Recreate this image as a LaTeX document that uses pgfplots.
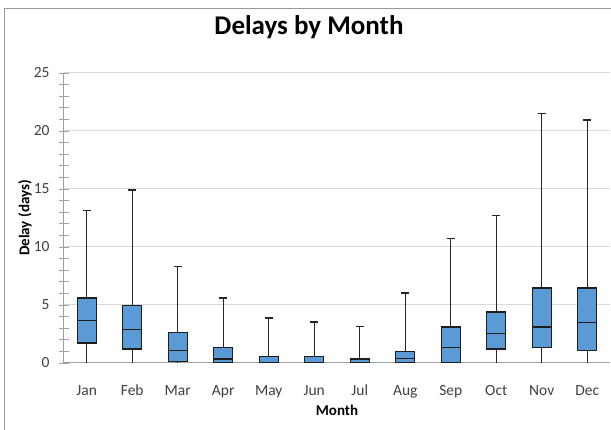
\documentclass[border=0pt]{standalone}
\usepackage{pgfplots}
\pgfplotsset{compat=1.18}
\usepgfplotslibrary{statistics}
\usepackage{fontspec}
\setmainfont{Carlito}
\definecolor{boxblue}{HTML}{5B9BD5}
\definecolor{boxedge}{HTML}{1E1E1E}
\definecolor{axgray}{HTML}{A0A0A0}
\definecolor{gridgray}{HTML}{D9D9D9}
\definecolor{lblgray}{HTML}{404040}
\begin{document}
\begin{tikzpicture}[x=1pt,y=1pt]
\clip (0,0) rectangle (611,430);
\fill[white] (0,0) rectangle (611,430);
\draw[gray!80, line width=1pt] (4,-20) rectangle (640,421);
\node[font=\fontsize{27}{30}\selectfont\bfseries, anchor=base] at (309,395) {Delays by Month};
\begin{axis}[
  at={(64pt,67pt)}, anchor=south west,
  scale only axis, width=546pt, height=290pt,
  xmin=0.5, xmax=12.5, ymin=0, ymax=25,
  axis lines*=left,
  axis line style={axgray, line width=1pt, -},
  xtick={1,...,12},
  xticklabels={Jan,Feb,Mar,Apr,May,Jun,Jul,Aug,Sep,Oct,Nov,Dec},
  xtick style={draw=none},
  ytick={0,5,...,25},
  minor y tick num=4,
  ytick style={axgray, line width=0.9pt},
  tick align=center,
  major tick length=10pt, minor tick length=10pt,
  ymajorgrids, grid style={gridgray, line width=1pt},
  /pgf/number format/assume math mode=true,
  tick label style={font=\fontsize{15.5}{18}\selectfont, text=lblgray},
  xticklabel style={anchor=base, yshift=-28pt},
  yticklabel style={xshift=-6pt},
  xlabel={Month}, ylabel={Delay (days)},
  label style={font=\fontsize{15}{18}\selectfont\bfseries},
  xlabel style={at={(axis description cs:0.5,-0.162)}, anchor=center},
  ylabel style={at={(axis description cs:-0.0714,0.5)}, anchor=center, rotate=0},
  boxplot/draw direction=y,
  boxplot/box extend=0.42,
  boxplot/whisker extend=0.18,
  boxplot/draw/lower whisker/.code={%
    \draw[black!85, line width=1.3pt]
      (boxplot box cs:\pgfplotsboxplotvalue{lower quartile},0.5) --
      (boxplot box cs:\pgfplotsboxplotvalue{lower whisker},0.5);
  },
  boxplot/draw/upper whisker/.code={%
    \draw[black!85, line width=1.3pt]
      (boxplot box cs:\pgfplotsboxplotvalue{upper quartile},0.5) --
      (boxplot box cs:\pgfplotsboxplotvalue{upper whisker},0.5);
    \draw[black!85, line width=1.6pt]
      (boxplot whisker cs:\pgfplotsboxplotvalue{upper whisker},0) --
      (boxplot whisker cs:\pgfplotsboxplotvalue{upper whisker},1);
  },
  every axis plot/.append style={fill=boxblue, draw=boxedge, line width=1.2pt},
]
\addplot[boxplot prepared={draw position=1, lower whisker=0, lower quartile=1.72, median=3.65, upper quartile=5.6, upper whisker=13.16}] coordinates {};
\addplot[boxplot prepared={draw position=2, lower whisker=0, lower quartile=1.2, median=2.87, upper quartile=4.94, upper whisker=14.9}] coordinates {};
\addplot[boxplot prepared={draw position=3, lower whisker=0, lower quartile=0.11, median=1.09, upper quartile=2.64, upper whisker=8.33}] coordinates {};
\addplot[boxplot prepared={draw position=4, lower whisker=0, lower quartile=0, median=0.34, upper quartile=1.35, upper whisker=5.6}] coordinates {};
\addplot[boxplot prepared={draw position=5, lower whisker=0, lower quartile=0, median=0, upper quartile=0.57, upper whisker=3.88}] coordinates {};
\addplot[boxplot prepared={draw position=6, lower whisker=0, lower quartile=0, median=0, upper quartile=0.55, upper whisker=3.53}] coordinates {};
\addplot[boxplot prepared={draw position=7, lower whisker=0, lower quartile=0, median=0, upper quartile=0.34, upper whisker=3.16}] coordinates {};
\addplot[boxplot prepared={draw position=8, lower whisker=0, lower quartile=0, median=0.37, upper quartile=1.0, upper whisker=6.03}] coordinates {};
\addplot[boxplot prepared={draw position=9, lower whisker=0, lower quartile=0, median=1.35, upper quartile=3.1, upper whisker=10.72}] coordinates {};
\addplot[boxplot prepared={draw position=10, lower whisker=0, lower quartile=1.2, median=2.53, upper quartile=4.4, upper whisker=12.73}] coordinates {};
\addplot[boxplot prepared={draw position=11, lower whisker=0, lower quartile=1.35, median=3.1, upper quartile=6.47, upper whisker=21.52}] coordinates {};
\addplot[boxplot prepared={draw position=12, lower whisker=0, lower quartile=1.09, median=3.5, upper quartile=6.47, upper whisker=20.95}] coordinates {};
\end{axis}
\end{tikzpicture}
\end{document}
